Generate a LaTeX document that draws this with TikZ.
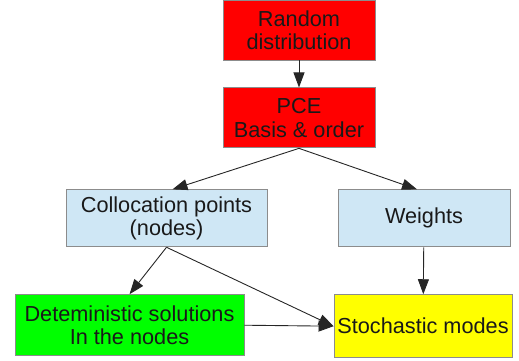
\documentclass[tikz,border=0pt]{standalone}
\usepackage{fontspec}
\setmainfont{Liberation Sans}
\usepackage{tikz}
\usetikzlibrary{positioning,arrows.meta}

\definecolor{boxred}{HTML}{FF0000}
\definecolor{boxblue}{HTML}{CFE7F5}
\definecolor{boxgreen}{HTML}{00FF00}
\definecolor{boxyellow}{HTML}{FFFF00}
\definecolor{boxline}{HTML}{8C8C8C}

\tikzset{
  box/.style={draw=boxline, line width=0.9pt, inner sep=0pt, align=center,
    font=\fontsize{21.7}{23.5}\selectfont, text=black!90},
  flow/.style={draw=black!85, line width=0.9pt, -{Triangle[length=15pt,width=11pt]}}
}

\begin{document}
\begin{tikzpicture}[x=1pt,y=-1pt]
  \useasboundingbox (0,0) rectangle (519,360);

  % Top
  \node[box, fill=boxred, minimum width=152pt, minimum height=60pt] (rand) at (299,30) {Random\\distribution} ;
  \node[box, fill=boxred, minimum width=152pt, minimum height=60pt, below=27pt of rand] (pce) {PCE\\Basis \& order} ;

  % Middle
  \node[box, fill=boxblue, minimum width=201pt, minimum height=57pt, below=41pt of pce, xshift=-132.5pt] (colloc) {Collocation points\\(nodes)} ;
  \node[box, fill=boxblue, minimum width=172pt, minimum height=57pt, below=41pt of pce, xshift=125pt] (weights) {Weights} ;

  % Bottom
  \node[box, fill=boxgreen, minimum width=229pt, minimum height=61pt, below=47pt of colloc, xshift=-37pt] (det) {Deteministic solutions\\In the nodes} ;
  \node[box, fill=boxyellow, minimum width=178pt, minimum height=63pt, below=47pt of weights, xshift=-1pt] (stoch) {Stochastic modes} ;

  % Connect the nodes
  \draw[flow] (rand) -- (pce) ;
  \draw[flow] (pce.south) -- ([xshift=6pt]colloc.north) ;
  \draw[flow] (pce.south) -- ([xshift=-7pt]weights.north) ;
  \draw[flow] (colloc.south) -- (det.north) ;
  \draw[flow] (colloc.south) -- (stoch.west) ;
  \draw[flow] (weights) -- (stoch) ;
  \draw[flow] (det.east) -- (stoch.west) ;
\end{tikzpicture}
\end{document}
